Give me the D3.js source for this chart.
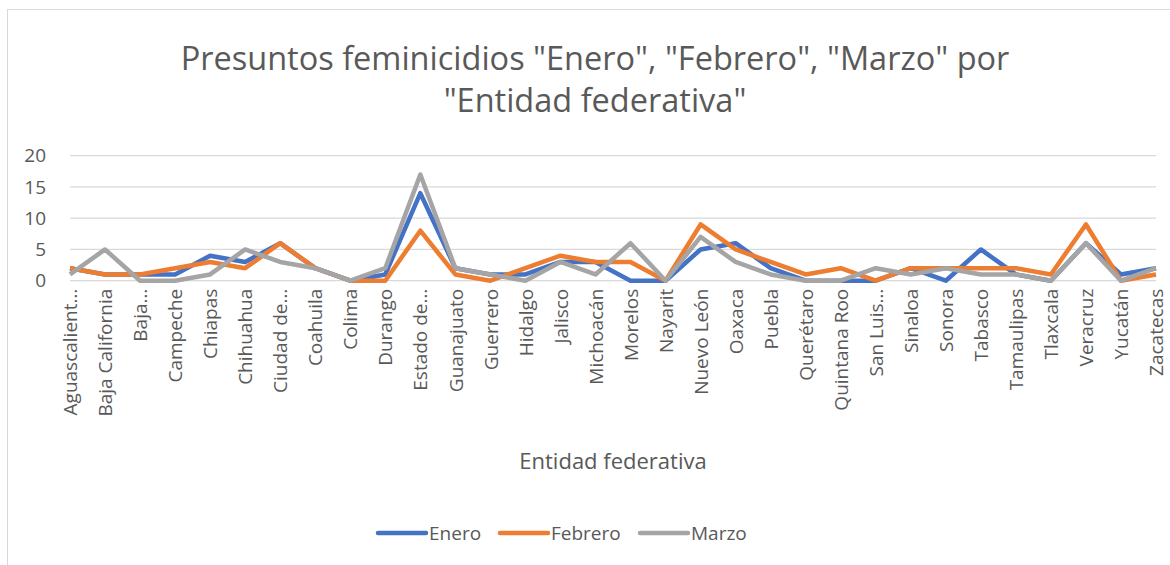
<!DOCTYPE html>
<html><head><meta charset="utf-8">
<script src="https://cdn.jsdelivr.net/npm/d3@7"></script>
<style>body{margin:0;background:#fff;}svg{display:block;font-family:"Open Sans","Noto Sans",sans-serif;}</style>
</head><body><svg id="c" width="1170" height="565"></svg>
<script>
const categories = ["Aguascalient…","Baja California","Baja…","Campeche","Chiapas","Chihuahua","Ciudad de…","Coahuila","Colima","Durango","Estado de…","Guanajuato","Guerrero","Hidalgo","Jalisco","Michoacán","Morelos","Nayarit","Nuevo León","Oaxaca","Puebla","Querétaro","Quintana Roo","San Luis…","Sinaloa","Sonora","Tabasco","Tamaulipas","Tlaxcala","Veracruz","Yucatán","Zacatecas"];
const enero   = [2,1,1,1,4,3,6,2,0,1,14,2,1,1,3,3,0,0,5,6,2,0,0,0,2,0,5,1,0,6,1,2];
const febrero = [2,1,1,2,3,2,6,2,0,0,8,1,0,2,4,3,3,0,9,5,3,1,2,0,2,2,2,2,1,9,0,1];
const marzo   = [1,5,0,0,1,5,3,2,0,2,17,2,1,0,3,1,6,0,7,3,1,0,0,2,1,2,1,1,0,6,0,2];
const seriesNames = ["Enero","Febrero","Marzo"];
const colors = ["#4472C4","#ED7D31","#A5A5A5"];
const yTicks = [0,5,10,15,20];
const titleLines = ['Presuntos feminicidios "Enero", "Febrero", "Marzo" por','"Entidad federativa"'];
const xTitle = "Entidad federativa";

const svg = d3.select("#c");
svg.append("rect").attr("x",7.5).attr("y",9.5).attr("width",1200).attr("height",600)
  .attr("fill","none").attr("stroke","#d9d9d9");

const pL=70, pR=1156, pT=155.7, pB=280.7;
const x = d3.scalePoint().domain(categories).range([pL,pR]);
const y = d3.scaleLinear().domain([0,20]).range([pB,pT]);

// title
svg.append("g").selectAll("text").data(titleLines).join("text")
  .attr("x",595).attr("y",(d,i)=>70+i*42).attr("text-anchor","middle")
  .attr("font-size",32.5).attr("fill","#595959").text(d=>d);

// gridlines
svg.append("g").selectAll("line").data(yTicks).join("line")
  .attr("x1",pL).attr("x2",pR).attr("y1",d=>y(d)).attr("y2",d=>y(d))
  .attr("stroke","#d9d9d9").attr("stroke-width",1.3);

// y axis
const ya = svg.append("g").attr("transform",`translate(${pL},0)`)
  .call(d3.axisLeft(y).tickValues(yTicks).tickSize(0).tickPadding(24));
ya.select(".domain").remove();
ya.selectAll("text").attr("font-size",19).attr("fill","#595959").attr("font-family","'Open Sans','Noto Sans',sans-serif");

// x axis
const xa = svg.append("g").attr("transform",`translate(0,${pB})`)
  .call(d3.axisBottom(x).tickSize(0).tickPadding(0));
xa.select(".domain").remove();
xa.selectAll("text").attr("font-size",19).attr("fill","#595959")
  .attr("font-family","'Open Sans','Noto Sans',sans-serif")
  .attr("text-anchor","end").attr("dy","0.35em").attr("dx","0")
  .attr("transform","translate(0,8) rotate(-90)");

// axis title
svg.append("text").attr("x",613).attr("y",469).attr("text-anchor","middle")
  .attr("font-size",22).attr("fill","#595959").text(xTitle);

// lines
const data=[enero,febrero,marzo];
const line = d3.line().x((d,i)=>x(categories[i])).y(d=>y(d));
svg.append("g").selectAll("path").data(data).join("path")
  .attr("d",line).attr("fill","none").attr("stroke",(d,i)=>colors[i])
  .attr("stroke-width",4.5).attr("stroke-linejoin","round");

// legend
const lg = svg.append("g");
const lx=[378,500,640];
seriesNames.forEach((n,i)=>{
  lg.append("line").attr("x1",lx[i]).attr("x2",lx[i]+48).attr("y1",533).attr("y2",533)
    .attr("stroke",colors[i]).attr("stroke-width",4.5).attr("stroke-linecap","round");
  lg.append("text").attr("x",lx[i]+51).attr("y",540).attr("font-size",19).attr("fill","#595959").text(n);
});
</script></body></html>
